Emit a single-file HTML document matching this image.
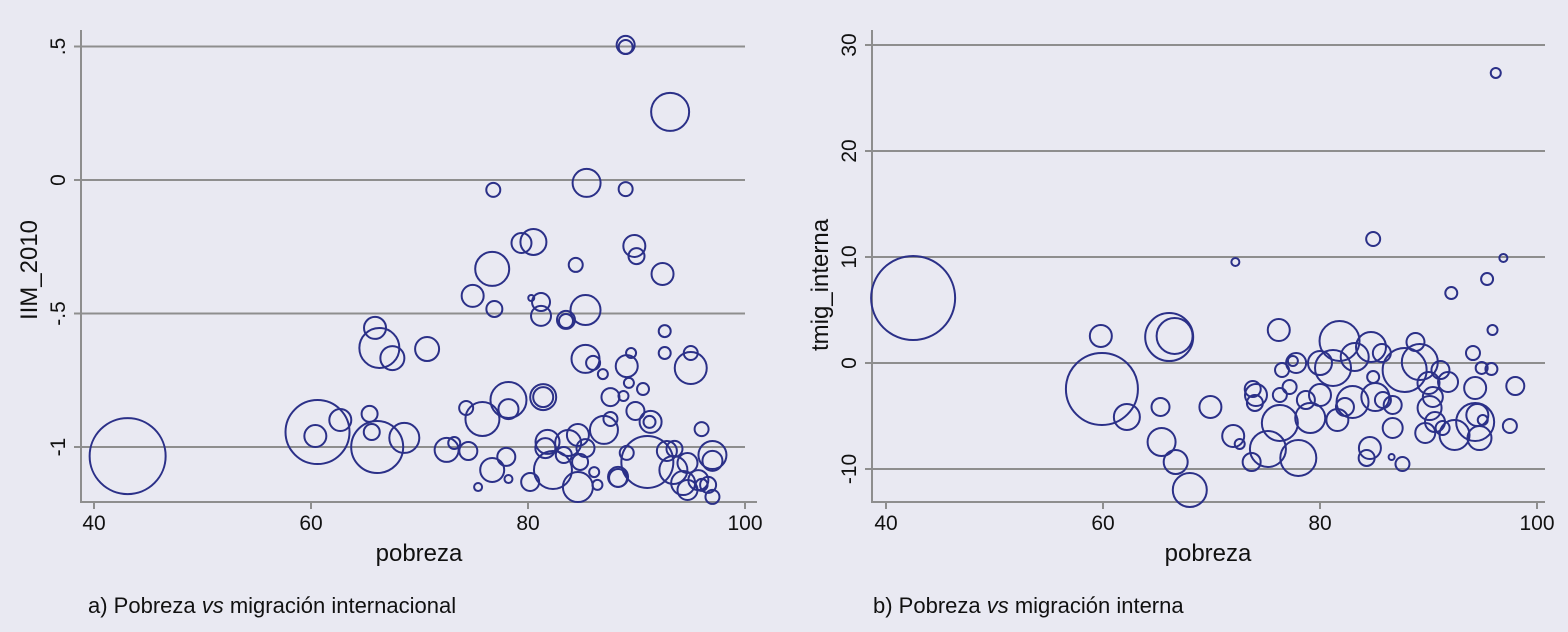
<!DOCTYPE html>
<html><head><meta charset="utf-8"><style>
body{margin:0;background:#e9e9f2;}
svg{display:block;font-family:"Liberation Sans",sans-serif;}
</style></head><body>
<svg id="svg" width="1568" height="632" viewBox="0 0 1568 632">
<rect width="1568" height="632" fill="#e9e9f2"/>
<g id="left"></g>
<g id="right"></g>
<text x="88" y="613" font-size="22" fill="#111">a) Pobreza <tspan font-style="italic">vs</tspan> migración internacional</text>
<text x="873" y="613" font-size="22" fill="#111">b) Pobreza <tspan font-style="italic">vs</tspan> migración interna</text>
</svg>
<script>
// Chart A data: pobreza, IIM_2010, bubble size (radius)
const aPob = [43.1,60.6,60.4,62.7,65.4,65.6,66.1,68.6,65.9,66.3,67.5,70.7,72.5,73.2,74.5,74.3,75.8,76.7,78.0,78.2,78.2,78.2,75.4,80.2,81.4,81.4,87.0,87.6,81.8,83.7,84.6,82.3,81.6,85.3,83.3,84.8,84.6,86.1,86.4,91.0,89.1,88.3,88.3,92.8,93.5,93.4,94.7,94.3,95.7,94.7,96.6,97.0,97.0,97.0,96.0,96.0,89.0,89.0,93.1,85.4,89.0,76.8,79.4,80.5,89.8,90.0,76.7,92.4,74.9,84.4,76.9,81.2,81.2,80.3,85.3,83.5,83.5,92.6,92.6,95.0,95.0,85.3,86.0,89.1,89.5,86.9,89.3,90.6,87.6,88.8,89.9,91.3,91.2];
const aIIM = [-1.034,-0.944,-0.959,-0.899,-0.876,-0.944,-1.000,-0.966,-0.554,-0.629,-0.667,-0.633,-1.011,-0.985,-1.015,-0.854,-0.895,-1.086,-1.037,-0.824,-0.858,-1.120,-1.150,-1.131,-0.813,-0.813,-0.936,-0.895,-0.981,-0.985,-0.955,-1.086,-1.004,-1.004,-1.030,-1.056,-1.150,-1.094,-1.142,-1.056,-1.022,-1.116,-1.112,-1.015,-1.007,-1.086,-1.060,-1.135,-1.124,-1.161,-1.142,-1.030,-1.052,-1.187,-1.142,-0.933,0.506,0.498,0.255,-0.011,-0.034,-0.037,-0.236,-0.232,-0.247,-0.285,-0.333,-0.352,-0.434,-0.318,-0.483,-0.457,-0.509,-0.442,-0.487,-0.524,-0.528,-0.566,-0.648,-0.704,-0.648,-0.670,-0.685,-0.697,-0.648,-0.727,-0.760,-0.783,-0.813,-0.809,-0.865,-0.906,-0.906];
const aSize = [38,32,11,11,8,8,26,15,11,20,12,12,12,6,9,7,17,12,9,18,10,4,4,9,13,10,14,7,12,13,11,19,10,9,8,8,15,5,5,26,7,9,10,10,8,14,10,12,10,10,8,14,10,7,6,7,9,7,19,14,7,7,10,13,11,8,17,11,11,7,8,9,10,3,15,9,7,6,6,16,7,14,7,11,5,5,5,6,9,5,9,11,6];
const aXTicks = [40,60,80,100];
const aYTicks = [0.5,0,-0.5,-1];
const aYLabels = [".5","0","-.5","-1"];
// Chart B data: pobreza, tmig_interna, bubble size (radius)
const bPob = [42.5,59.8,59.9,62.2,65.3,66.1,66.6,65.4,66.7,68.0,69.9,72.0,72.6,73.7,75.2,73.8,74.1,74.0,76.3,77.2,76.2,76.5,77.8,77.5,76.3,78.0,78.7,79.1,80.0,80.0,81.2,81.8,83.2,84.7,85.7,84.9,85.1,83.0,82.3,81.6,85.8,86.7,87.8,88.8,89.2,90.0,90.4,91.1,91.8,90.1,90.6,89.7,91.3,92.4,94.3,94.5,94.7,94.3,94.1,94.9,95.8,95.9,98.0,97.5,86.7,84.6,84.3,86.6,87.6,95.0,84.9,92.1,95.4,96.9,96.2,72.2];
const bMig = [6.13,2.55,-2.45,-5.09,-4.15,2.45,2.55,-7.45,-9.34,-11.98,-4.15,-6.89,-7.64,-9.34,-8.11,-2.45,-3.02,-3.77,-3.02,-2.26,3.11,-0.66,0,0.19,-5.66,-8.96,-3.49,-5.19,-3.02,0,-0.47,2.08,0.57,1.51,0.94,-1.32,-3.21,-3.68,-4.15,-5.38,-3.49,-3.96,-0.66,1.98,0.09,-1.89,-3.21,-0.66,-1.79,-4.25,-5.57,-6.60,-6.13,-6.79,-5.57,-4.91,-7.08,-2.36,0.94,-0.47,-0.57,3.11,-2.17,-5.94,-6.13,-8.02,-8.96,-8.87,-9.53,-5.38,11.7,6.60,7.92,9.91,27.36,9.53];
const bSize = [42,11,36,13,9,24,18,14,12,17,11,11,5,9,18,8,11,8,7,7,11,7,10,5,18,18,9,15,11,12,18,20,14,15,9,6,14,16,9,11,8,9,22,9,18,11,10,9,10,12,10,10,7,15,19,11,12,11,7,6,6,5,9,7,10,11,8,3,7,5,7,6,6,4,5,4];
const bXTicks = [40,60,80,100];
const bYTicks = [30,20,10,0,-10];
const bYLabels = ["30","20","10","0","-10"];

const NS="http://www.w3.org/2000/svg";
function mk(parent,tag,attrs){const e=document.createElementNS(NS,tag);for(const k in attrs)e.setAttribute(k,attrs[k]);parent.appendChild(e);return e;}

function draw(g,cfg){
  const sx=v=>cfg.x0+(v-40)*cfg.kx;
  const sy=v=>cfg.y0-v*cfg.ky;
  // gridlines + y ticks
  cfg.yTicks.forEach((t,i)=>{
    const y=sy(t);
    const gl=mk(g,'line',{x1:cfg.ax,x2:cfg.gridEnd,y1:y,y2:y,stroke:'#8e8e8e','stroke-width':2});
    
    
    const tk=mk(g,'line',{x1:cfg.ax-7,x2:cfg.ax,y1:y,y2:y,stroke:'#8e8e8e','stroke-width':2});
    
    
    const tx=mk(g,'text',{x:0,y:0,'font-size':21,fill:'#111','text-anchor':'middle',transform:`translate(${cfg.ax-16},${y}) rotate(-90)`});
    tx.textContent=cfg.yLabels[i];
    
    
  });
  // axes
  const ya=mk(g,'line',{x1:cfg.ax,x2:cfg.ax,y1:30,y2:503,stroke:'#8e8e8e','stroke-width':2});
  
  
  const xa=mk(g,'line',{x1:cfg.ax,x2:cfg.axEnd,y1:502,y2:502,stroke:'#8e8e8e','stroke-width':2});
  
  
  cfg.xTicks.forEach(t=>{
    const x=sx(t);
    const tk=mk(g,'line',{x1:x,x2:x,y1:502,y2:509,stroke:'#8e8e8e','stroke-width':2});
    
    
    const tx=mk(g,'text',{x:x,y:530,'font-size':21,fill:'#111','text-anchor':'middle'});
    tx.textContent=String(t);
    
    
  });
  // bubbles
  cfg.xs.forEach((v,i)=>{
    const c=mk(g,'circle',{cx:sx(v),cy:sy(cfg.ys[i]),r:cfg.sz[i],fill:'none',stroke:'#2b3088','stroke-width':2});
    
    
  });
  const xt=mk(g,'text',{x:cfg.xTitleX,y:561,'font-size':24,fill:'#111','text-anchor':'middle'});
  xt.textContent='pobreza';
  
  
  const yt=mk(g,'text',{x:0,y:0,'font-size':24,fill:'#111','text-anchor':'middle',transform:`translate(${cfg.ax-44},${cfg.yTitleY}) rotate(-90)`});
  yt.textContent=cfg.yTitle;
  
  
}
draw(document.getElementById('left'),{x0:94,kx:10.85,y0:180,ky:267,ax:81,gridEnd:745,axEnd:757,
  xs:aPob,ys:aIIM,sz:aSize,xTicks:aXTicks,yTicks:aYTicks,yLabels:aYLabels,yTitle:'IIM_2010',yTitleY:270,xTitleX:419});
draw(document.getElementById('right'),{x0:886,kx:10.85,y0:363,ky:10.6,ax:872,gridEnd:1545,axEnd:1545,
  xs:bPob,ys:bMig,sz:bSize,xTicks:bXTicks,yTicks:bYTicks,yLabels:bYLabels,yTitle:'tmig_interna',yTitleY:285,xTitleX:1208});
</script>
</body></html>
